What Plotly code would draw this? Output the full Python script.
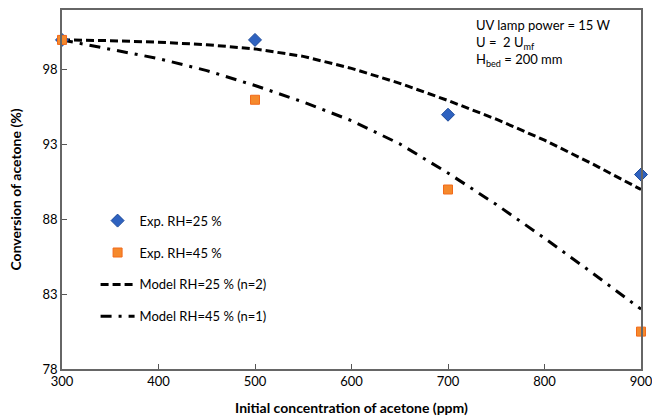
import plotly.graph_objects as go

exp_x = [300, 500, 700, 900]
exp_rh25 = [100.0, 100.0, 95.0, 91.0]
exp_rh45 = [100.0, 96.0, 90.0, 80.5]

model_x = [300, 350, 400, 450, 500, 550, 600, 650, 700, 750, 800, 850, 900]
model_rh25 = [100.0, 99.95, 99.85, 99.68, 99.4, 98.9, 98.1, 97.1, 95.95, 94.7, 93.3, 91.7, 90.0]
model_rh45 = [100.0, 99.4, 98.75, 97.95, 96.95, 95.85, 94.6, 93.05, 91.1, 89.0, 86.75, 84.4, 82.0]

x_ticks = [300, 400, 500, 600, 700, 800, 900]
y_ticks = [78, 83, 88, 93, 98]

FONT = "Lato"

fig = go.Figure()
fig.add_trace(go.Scatter(x=model_x, y=model_rh25, mode="lines", name="Model RH=25 % (n=2)",
                         line=dict(color="black", width=3, dash="8px,4px"),
                         legendgroup="c", legendrank=3))
fig.add_trace(go.Scatter(x=model_x, y=model_rh45, mode="lines", name="Model RH=45 % (n=1)",
                         line=dict(color="black", width=3, dash="11px,7px,3px,7px"),
                         legendgroup="d", legendrank=4))
fig.add_trace(go.Scatter(x=exp_x, y=exp_rh25, mode="markers", name="Exp. RH=25 %",
                         marker=dict(symbol="diamond", size=10, color="#2e62c0",
                                     line=dict(color="#1d4a9a", width=1)),
                         cliponaxis=False, legendgroup="a", legendrank=1))
fig.add_trace(go.Scatter(x=exp_x, y=exp_rh45, mode="markers", name="Exp. RH=45 %",
                         marker=dict(symbol="square", size=9, color="#f5892c",
                                     line=dict(color="#f26a1b", width=1)),
                         cliponaxis=False, legendgroup="b", legendrank=2))

fig.update_layout(
    width=652, height=416,
    margin=dict(l=62, r=11, t=10, b=47),
    paper_bgcolor="white", plot_bgcolor="white",
    font=dict(family=FONT, size=13, color="black"),
    showlegend=True,
    legend=dict(x=0.058, y=0.455, xanchor="left", yanchor="top",
                bgcolor="rgba(0,0,0,0)", font=dict(size=13, family=FONT),
                tracegroupgap=12, itemwidth=34),
    annotations=[dict(
        xref="paper", yref="paper", x=0.712, y=0.985, xanchor="left", yanchor="top",
        align="left", showarrow=False,
        text="UV lamp power = 15 W<br>U =&nbsp; 2 U<sub>mf</sub><br>H<sub>bed</sub> = 200 mm",
        font=dict(size=13, family=FONT, color="black"))],
)
fig.update_xaxes(range=[300, 900], tickvals=x_ticks, ticks="inside", ticklen=5,
                 tickcolor="#555", showline=True, linecolor="#666", linewidth=1.5, mirror=True,
                 showgrid=False, zeroline=False, automargin=False, ticklabeloverflow="allow",
                 title=dict(text="<b>Initial concentration of acetone (ppm)</b>", standoff=15,
                            font=dict(size=14, family=FONT)))
fig.update_yaxes(range=[78, 102], tickvals=y_ticks, ticks="inside", ticklen=5,
                 tickcolor="#555", showline=True, linecolor="#666", linewidth=1.5, mirror=True,
                 showgrid=False, zeroline=False, automargin=False, ticklabeloverflow="allow",
                 title=dict(text="<b>Conversion of acetone (%)</b>", standoff=18,
                            font=dict(size=14, family=FONT)))

fig.write_html("out.html")
